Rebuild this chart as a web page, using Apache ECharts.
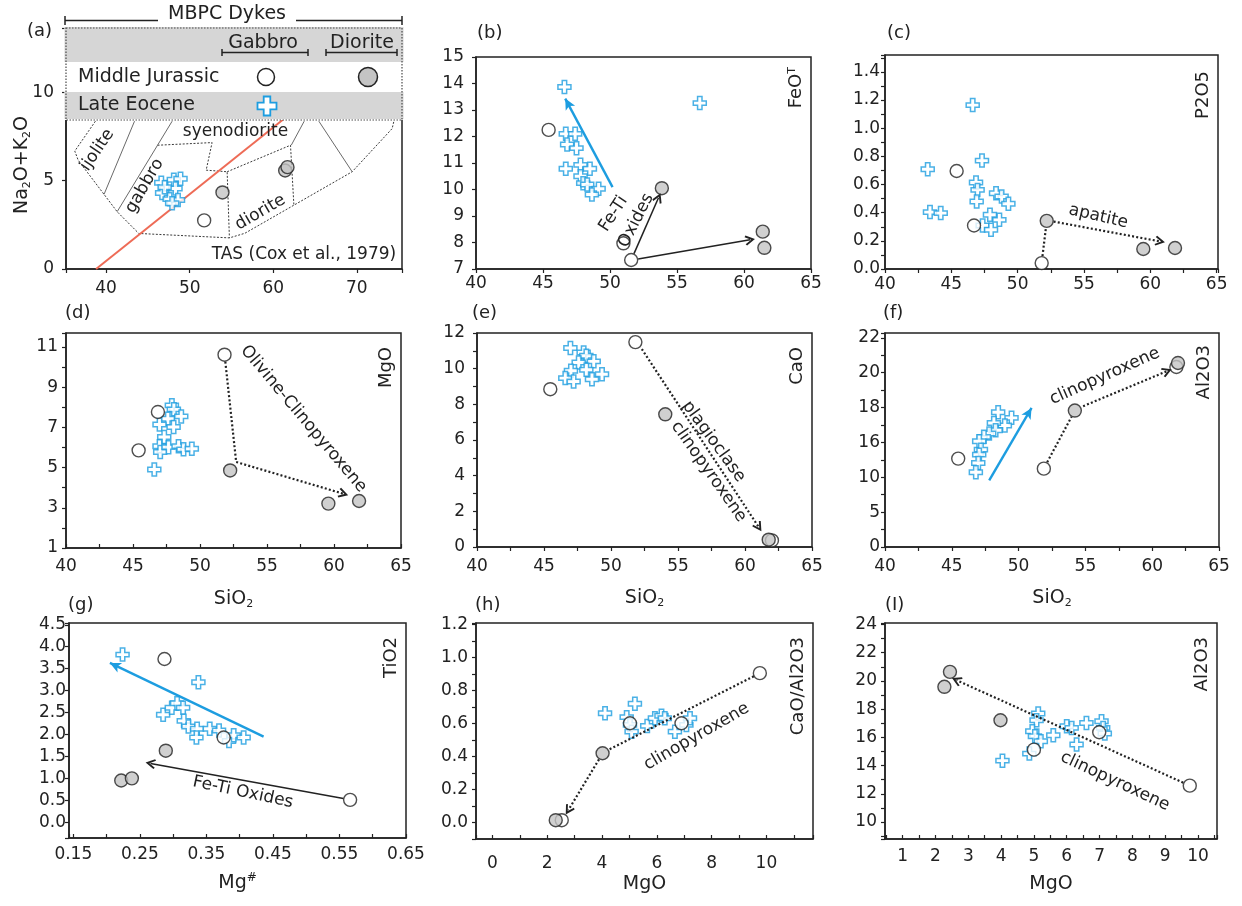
<!DOCTYPE html>
<html>
<head>
<meta charset="utf-8">
<title>MBPC Dykes – major element variation</title>
<script src="https://cdn.jsdelivr.net/npm/echarts@6/dist/echarts.min.js"></script>
<style>
  html, body { margin: 0; padding: 0; background: #ffffff; }
  #chart { width: 1242px; height: 906px; }
</style>
</head>
<body>
<div id="chart"></div>
<script>
// ---------- (a) TAS: SiO2 vs Na2O+K2O ----------
const aEocene   = [[46.6,4.88],[48.1,5.05],[48.9,5.1],[48.3,4.55],[46.7,4.3],[47.6,3.95],[48.6,3.9],[47.9,3.72],[47.0,4.62]];
const aJurassic = [[51.73,2.75]];
const aDiorite  = [[53.92,4.33],[61.42,5.57],[61.7,5.76]];
// TAS field boundaries (Cox et al., 1979)
const tasOuter   = [[38.72,8.36],[36.25,6.67],[36.65,6.16],[41.32,3.24],[43.91,2.01],[54.75,1.76],[56.6,2.02],[69.44,5.5],[74.22,7.94],[74.43,8.36]];
const tasLineA   = [[43.4,8.36],[39.75,4.22]];
const tasLineB   = [[47.9,8.36],[41.32,3.24]];
const tasLineC   = [[63.7,8.36],[62.15,7.0]];
const tasLineD   = [[65.45,8.36],[69.44,5.5]];
const tasGabbro  = [[46.15,7.0],[52.68,7.15],[51.97,5.59],[54.48,5.5],[54.75,1.76]];
const tasDiorite = [[54.48,5.5],[62.06,7.0],[62.46,3.65]];
const tasDivide  = [[38.8,0],[61.14,8.44]];

// ---------- (b) SiO2 vs FeOT ----------
const bEocene   = [[46.6,13.87],[56.7,13.26],[46.7,12.1],[47.4,12.1],[46.8,11.7],[47.5,11.56],[46.7,10.78],[47.8,10.93],[48.5,10.78],[47.8,10.5],[48.0,10.24],[48.3,10.19],[49.15,10.03],[48.65,9.81]];
const bJurassic = [[45.42,12.25],[51.0,7.97],[51.58,7.34]];
const bDiorite  = [[53.87,10.05],[61.4,8.41],[61.52,7.8]];
const bTrendEocene = [[50.19,10.09],[46.66,13.43]];
const bTrendOxA    = [[51.79,7.58],[53.62,9.69]];
const bTrendOxB    = [[52.1,7.38],[60.45,8.1]];

// ---------- (c) SiO2 vs P2O5 ----------
const cEocene   = [[46.61,1.164],[43.22,0.708],[47.31,0.77],[43.39,0.404],[44.2,0.397],[46.86,0.614],[46.98,0.562],[46.91,0.479],[48.37,0.538],[48.79,0.515],[49.3,0.463],[47.91,0.385],[48.62,0.349],[47.36,0.309],[47.99,0.279]];
const cJurassic = [[45.4,0.696],[46.71,0.309],[51.81,0.042]];
const cDiorite  = [[52.19,0.342],[59.47,0.142],[61.86,0.149]];
const cTrendLink    = [[51.87,0.092],[52.13,0.293]];
const cTrendApatite = [[52.71,0.337],[60.73,0.196]];

// ---------- (d) SiO2 vs MgO ----------
const dEocene   = [[47.9,8.1],[48.05,7.9],[48.6,7.55],[47.6,7.43],[46.98,7.15],[48.03,7.02],[47.33,6.52],[46.98,6.06],[47.03,5.78],[47.65,6.02],[48.4,6.07],[48.77,5.91],[49.39,5.94],[46.59,4.91]];
const dJurassic = [[51.83,10.62],[45.42,5.86],[46.86,7.77]];
const dDiorite  = [[52.25,4.86],[59.58,3.21],[61.87,3.34]];
const dTrend    = [[51.89,10.27],[52.7,5.28],[60.7,3.7]];

// ---------- (e) SiO2 vs CaO ----------
const eEocene   = [[46.97,11.16],[47.96,10.91],[48.16,10.72],[47.59,10.35],[48.71,10.41],[47.01,9.88],[48.16,9.94],[46.59,9.47],[47.21,9.28],[48.58,9.41],[49.33,9.69]];
const eJurassic = [[51.82,11.49],[45.47,8.85],[62.01,0.37]];
const eDiorite  = [[54.05,7.44],[61.77,0.41]];
const eTrend    = [[52.3,11.1],[61.02,1.12]];

// ---------- (f) SiO2 vs Al2O3 (broken scale) ----------
const fTickLabels = [0,5,10,16,18,20,22];
const fEocene   = [[48.47,17.73],[49.47,17.41],[48.97,16.97],[48.15,17.12],[48.28,16.7],[47.8,16.51],[47.4,16.32],[47.05,16.07],[47.18,14.76],[47.05,13.9],[46.98,12.47],[46.8,10.86]];
const fJurassic = [[45.48,13.22],[51.89,11.49],[61.81,20.33]];
const fDiorite  = [[54.21,17.83],[61.93,20.56]];
const fTrendEocene = [[47.8,9.57],[50.97,17.98]];
const fTrendLink   = [[52.14,12.6],[53.96,17.47]];
const fTrendCpx    = [[54.83,18.08],[61.11,20.09]];

// ---------- (g) Mg# vs TiO2 ----------
const gEocene   = [[0.224,3.82],[0.338,3.19],[0.285,2.45],[0.298,2.61],[0.306,2.71],[0.315,2.61],[0.316,2.31],[0.323,2.18],[0.336,2.13],[0.335,1.93],[0.355,2.13],[0.369,2.09],[0.384,1.85],[0.391,1.98],[0.406,1.93]];
const gJurassic = [[0.287,3.72],[0.376,1.93],[0.566,0.51]];
const gDiorite  = [[0.289,1.63],[0.222,0.95],[0.238,1.0]];
const gTrendEocene = [[0.436,1.95],[0.205,3.63]];
const gTrendOx     = [[0.556,0.54],[0.266,1.34]];

// ---------- (h) MgO vs CaO/Al2O3 ----------
const hEocene   = [[4.11,0.663],[5.2,0.72],[4.9,0.639],[5.02,0.592],[5.08,0.551],[5.65,0.586],[5.93,0.632],[6.17,0.647],[6.29,0.632],[6.66,0.551],[7.08,0.592],[7.21,0.632]];
const hJurassic = [[9.76,0.906],[5.02,0.602],[6.9,0.602],[2.53,0.014]];
const hDiorite  = [[4.02,0.42],[2.31,0.014]];
const hTrendLink = [[9.54,0.887],[4.25,0.442]];
const hTrendCpx  = [[3.89,0.383],[2.77,0.075]];

// ---------- (i) MgO vs Al2O3 ----------
const iEocene   = [[4.04,14.35],[5.13,17.69],[5.08,17.21],[4.95,16.43],[5.03,16.08],[5.21,15.72],[4.86,14.85],[5.59,16.15],[6.0,16.79],[6.15,16.67],[6.3,15.49],[6.6,17.02],[7.06,17.14],[7.11,16.67],[7.16,16.27]];
const iJurassic = [[9.75,12.58],[5.0,15.13],[6.99,16.36]];
const iDiorite  = [[2.44,20.64],[2.27,19.58],[3.98,17.21]];
const iTrend    = [[9.55,12.79],[2.64,20.05]];

// ---------- styling ----------
const INK = '#222222';
const BLUE = '#1d9de0';
const GREY = '#c4c4c4';
const RED = '#ee6b56';
const BAND = '#d6d6d6';
const FONT = 'DejaVu Sans';
const CROSS = 'path://M3.3,0 H6.7 V3.3 H10 V6.7 H6.7 V10 H3.3 V6.7 H0 V3.3 H3.3 Z';
const CHEVRON = 'path://M5,0 L10,8.2 L8.5,9.3 L5,3.6 L1.5,9.3 L0,8.2 Z';

const LOOKS = {
  blue:   { line: { color: BLUE, width: 2.4, type: 'solid' }, head: 'arrow', size: [8, 11] },
  solid:  { line: { color: INK, width: 1.5, type: 'solid' }, head: CHEVRON, size: 10 },
  dotted: { line: { color: INK, width: 2.2, type: [2, 2.2] }, head: CHEVRON, size: 10 }
};

// piecewise mapping of Al2O3 values onto the evenly spaced (broken) tick slots
function toSlot(v) {
  const t = fTickLabels;
  for (let k = 0; k < t.length - 1; k++) {
    if (v <= t[k + 1] || k === t.length - 2) return k + (v - t[k]) / (t[k + 1] - t[k]);
  }
  return 0;
}

const sio2Name = '{t|SiO}{s|2}';
const nameRich = {
  t: { fontSize: 19, fontFamily: FONT, color: INK, lineHeight: 22 },
  s: { fontSize: 11, fontFamily: FONT, color: INK, lineHeight: 11, verticalAlign: 'bottom' },
  u: { fontSize: 12, fontFamily: FONT, color: INK, lineHeight: 12, verticalAlign: 'top' }
};

const panels = [
  { tag: '(a)', tagAt: [27, 31], grid: { left: 66, top: 28, width: 336, height: 241 },
    x: { min: 35.2, max: 75.4, step: 10, every: 1, base: 40, dec: 0, margin: 11 },
    y: { min: 0, max: 13.63, step: 5, every: 1, base: 0, dec: 0, margin: 12 },
    eocene: aEocene, jurassic: aJurassic, diorite: aDiorite,
    fields: [
      { path: tasOuter, style: { color: '#3a3a3a', width: 1, type: [2, 1.6] } },
      { path: tasGabbro, style: { color: '#3a3a3a', width: 1, type: [2, 1.6] } },
      { path: tasDiorite, style: { color: '#3a3a3a', width: 1, type: [2, 1.6] } },
      { path: tasLineA, style: { color: '#6a6a6a', width: 1, type: 'solid' } },
      { path: tasLineB, style: { color: '#6a6a6a', width: 1, type: 'solid' } },
      { path: tasLineC, style: { color: '#6a6a6a', width: 1, type: 'solid' } },
      { path: tasLineD, style: { color: '#6a6a6a', width: 1, type: 'solid' } },
      { path: tasDivide, style: { color: RED, width: 2, type: 'solid' } }
    ],
    trends: [],
    notes: [
      { text: 'ijolite', at: [38.95, 6.73], rot: 56 },
      { text: 'gabbro', at: [44.6, 4.7], rot: 60 },
      { text: 'syenodiorite', at: [55.48, 7.76], rot: 0 },
      { text: 'diorite', at: [58.45, 3.2], rot: 30 },
      { text: 'TAS (Cox et al., 1979)', at: [74.7, 0.8], rot: 0, align: 'right' }
    ] },
  { tag: '(b)', tagAt: [477, 33], grid: { left: 476, top: 57, width: 335, height: 212 },
    x: { min: 40, max: 65, step: 5, every: 1, base: 40, dec: 0, margin: 6 },
    y: { min: 7, max: 15, step: 1, every: 1, base: 7, dec: 0, margin: 12 },
    rname: '{m|FeO}{u|T}', rnameTop: 10,
    eocene: bEocene, jurassic: bJurassic, diorite: bDiorite,
    trends: [
      { path: bTrendEocene, look: 'blue', head: true },
      { path: bTrendOxA, look: 'solid', head: true },
      { path: bTrendOxB, look: 'solid', head: true }
    ],
    notes: [
      { text: 'Fe-Ti', at: [50.26, 9.08], rot: 57 },
      { text: 'Oxides', at: [51.95, 8.83], rot: 63 }
    ] },
  { tag: '(c)', tagAt: [887, 33], grid: { left: 885, top: 55, width: 333, height: 214 },
    x: { min: 40, max: 65.1, step: 2.5, every: 2, base: 40, dec: 0, margin: 7 },
    y: { min: 0, max: 1.52, step: 0.1, every: 2, base: 0, dec: 1, margin: 5 },
    rname: 'P2O5', rnameTop: 16,
    eocene: cEocene, jurassic: cJurassic, diorite: cDiorite,
    trends: [
      { path: cTrendLink, look: 'dotted', head: false },
      { path: cTrendApatite, look: 'dotted', head: true }
    ],
    notes: [{ text: 'apatite', at: [56.08, 0.373], rot: -13 }] },
  { tag: '(d)', tagAt: [65, 313], grid: { left: 66, top: 333, width: 335, height: 215 },
    x: { min: 40, max: 65, step: 2.5, every: 2, base: 40, dec: 0, margin: 10, inside: true,
         name: sio2Name, nameGap: 40 },
    y: { min: 1, max: 11.7, step: 1, every: 2, base: 1, dec: 0, margin: 8 },
    rname: 'MgO', rnameTop: 14,
    eocene: dEocene, jurassic: dJurassic, diorite: dDiorite,
    trends: [{ path: dTrend, look: 'dotted', head: true }],
    notes: [{ text: 'Olivine-Clinopyroxene', at: [57.72, 7.43], rot: -50 }] },
  { tag: '(e)', tagAt: [472, 313], grid: { left: 477, top: 333, width: 335, height: 214 },
    x: { min: 40, max: 65, step: 2.5, every: 2, base: 40, dec: 0, margin: 11,
         name: sio2Name, nameGap: 40 },
    y: { min: 0, max: 12, step: 1, every: 2, base: 0, dec: 0, margin: 12 },
    rname: 'CaO', rnameTop: 14,
    eocene: eEocene, jurassic: eJurassic, diorite: eDiorite,
    trends: [{ path: eTrend, look: 'dotted', head: true }],
    notes: [
      { text: 'plagioclase', at: [57.66, 5.91], rot: -54 },
      { text: 'clinopyroxene', at: [57.29, 4.22], rot: -55 }
    ] },
  { tag: '(f)', tagAt: [883, 313], grid: { left: 885, top: 333, width: 334, height: 214 },
    x: { min: 40, max: 65, step: 2.5, every: 2, base: 40, dec: 0, margin: 11,
         name: sio2Name, nameGap: 40 },
    y: { min: 0, max: 6.14, step: 0.5, every: 2, base: 0, dec: 0, margin: 5, labels: fTickLabels },
    yMap: toSlot,
    rname: 'Al2O3', rnameTop: 12,
    eocene: fEocene, jurassic: fJurassic, diorite: fDiorite,
    trends: [
      { path: fTrendEocene, look: 'blue', head: true },
      { path: fTrendLink, look: 'dotted', head: false },
      { path: fTrendCpx, look: 'dotted', head: true }
    ],
    notes: [{ text: 'clinopyroxene', at: [56.45, 19.8], rot: 24 }] },
  { tag: '(g)', tagAt: [68, 605], grid: { left: 69, top: 623, width: 337, height: 215 },
    x: { min: 0.1435, max: 0.65, step: 0.05, every: 2, base: 0.15, dec: 2, margin: 8, inside: true,
         name: '{t|Mg}{u|#}', nameGap: 34 },
    y: { min: -0.36, max: 4.54, step: 0.5, every: 1, base: 0, dec: 1, margin: 3 },
    rname: 'TiO2', rnameTop: 14,
    eocene: gEocene, jurassic: gJurassic, diorite: gDiorite,
    trends: [
      { path: gTrendEocene, look: 'blue', head: true },
      { path: gTrendOx, look: 'solid', head: true }
    ],
    notes: [{ text: 'Fe-Ti Oxides', at: [0.405, 0.68], rot: -12 }] },
  { tag: '(h)', tagAt: [475, 605], grid: { left: 476, top: 623, width: 337, height: 216 },
    x: { min: -0.6, max: 11.7, step: 1, every: 2, base: 0, dec: 0, margin: 16, inside: true,
         name: '{t|MgO}', nameGap: 34 },
    y: { min: -0.1, max: 1.21, step: 0.1, every: 2, base: 0, dec: 1, margin: 8 },
    rname: 'CaO/Al2O3', rnameTop: 14,
    eocene: hEocene, jurassic: hJurassic, diorite: hDiorite,
    trends: [
      { path: hTrendLink, look: 'dotted', head: false },
      { path: hTrendCpx, look: 'dotted', head: true }
    ],
    notes: [{ text: 'clinopyroxene', at: [7.45, 0.521], rot: 30 }] },
  { tag: '(I)', tagAt: [885, 605], grid: { left: 885, top: 623, width: 332, height: 216 },
    x: { min: 0.46, max: 10.58, step: 0.5, every: 2, base: 0, dec: 0, margin: 9, inside: true,
         name: '{t|MgO}', nameGap: 34 },
    y: { min: 8.8, max: 24.1, step: 1, every: 2, base: 0, dec: 0, margin: 8 },
    rname: 'Al2O3', rnameTop: 14,
    eocene: iEocene, jurassic: iJurassic, diorite: iDiorite,
    trends: [{ path: iTrend, look: 'dotted', head: true }],
    notes: [{ text: 'clinopyroxene', at: [7.47, 12.88], rot: -25 }] }
];

// tick labels only at the labelled multiples; other ticks stay unlabelled
function tickText(ax) {
  const unit = ax.step * ax.every;
  return function (v) {
    const k = (v - ax.base) / unit;
    const kr = Math.round(k);
    if (Math.abs(k - kr) > 1e-6) return '';
    if (ax.labels) return ax.labels[kr] != null ? String(ax.labels[kr]) : '';
    return (ax.base + kr * unit).toFixed(ax.dec);
  };
}

function makeAxis(i, ax) {
  const axis = {
    type: 'value', gridIndex: i, min: ax.min, max: ax.max,
    minInterval: ax.step, maxInterval: ax.step,
    splitNumber: Math.max(1, Math.round((ax.max - ax.min) / ax.step)),
    axisLine: { show: true, onZero: false, lineStyle: { color: INK, width: 1.5 } },
    axisTick: { show: true, inside: !!ax.inside, length: 4, lineStyle: { color: INK, width: 1.2 } },
    splitLine: { show: false },
    axisLabel: { show: true, margin: ax.margin, color: INK, fontSize: 17, fontFamily: FONT,
                 showMinLabel: true, showMaxLabel: true, hideOverlap: false, formatter: tickText(ax) }
  };
  if (ax.name) {
    axis.name = ax.name;
    axis.nameLocation = 'middle';
    axis.nameGap = ax.nameGap;
    axis.nameTextStyle = { color: INK, fontFamily: FONT, fontSize: 19, rich: nameRich };
  }
  return axis;
}

function trendLines(trends, pt) {
  const data = [];
  trends.forEach(t => {
    const look = LOOKS[t.look];
    for (let k = 0; k < t.path.length - 1; k++) {
      const last = k === t.path.length - 2;
      data.push([
        { coord: pt(t.path[k]), symbol: 'none', lineStyle: look.line },
        { coord: pt(t.path[k + 1]), symbol: (last && t.head) ? look.head : 'none', symbolSize: look.size }
      ]);
    }
  });
  return { silent: true, animation: false, symbol: ['none', 'none'], label: { show: false },
           emphasis: { disabled: true }, data: data };
}

const grids = [], xAxes = [], yAxes = [], series = [];
panels.forEach((p, i) => {
  grids.push(Object.assign({ show: true, borderColor: INK, borderWidth: 1.5,
                             backgroundColor: '#ffffff', containLabel: false, outerBoundsMode: 'none' }, p.grid));
  xAxes.push(Object.assign(makeAxis(i, p.x), { position: 'bottom' }));
  yAxes.push(Object.assign(makeAxis(i, p.y), { position: 'left' }));
  const m = p.yMap || (v => v);
  const pt = d => [d[0], m(d[1])];
  const axes = { xAxisIndex: i, yAxisIndex: i };
  (p.fields || []).forEach(f => series.push(Object.assign({
    type: 'line', data: f.path.map(pt), symbol: 'none', showSymbol: false, silent: true,
    lineStyle: f.style, z: 1
  }, axes)));
  series.push(Object.assign({
    type: 'scatter', name: 'Late Eocene', data: p.eocene.map(pt), symbol: CROSS, symbolSize: 13,
    itemStyle: { color: '#ffffff', borderColor: BLUE, borderWidth: 1.5 }, silent: true, z: 3,
    markLine: trendLines(p.trends, pt)
  }, axes));
  series.push(Object.assign({
    type: 'scatter', name: 'Middle Jurassic gabbro', data: p.jurassic.map(pt), symbol: 'circle', symbolSize: 13,
    itemStyle: { color: '#ffffff', borderColor: INK, borderWidth: 1.4 }, silent: true, z: 4
  }, axes));
  series.push(Object.assign({
    type: 'scatter', name: 'Middle Jurassic diorite', data: p.diorite.map(pt), symbol: 'circle', symbolSize: 13,
    itemStyle: { color: GREY, borderColor: INK, borderWidth: 1.4 }, silent: true, z: 4
  }, axes));
  series.push(Object.assign({
    type: 'scatter', data: p.notes.map(n => ({ name: n.text, value: pt(n.at),
      label: { rotate: n.rot, align: n.align || 'center' } })),
    symbolSize: 1, itemStyle: { color: '#ffffff', opacity: 1 }, silent: true, z: 5,
    label: { show: true, position: 'inside', formatter: '{b}', color: INK, opacity: 1,
             textBorderWidth: 0, textBorderColor: 'transparent', fontSize: 17, fontFamily: FONT }
  }, axes));
});

// ---------- panel tags, in-frame axis titles, TAS legend ----------
const graphics = [];
const txt = (x, y, text, size, align) => ({
  type: 'text', x: x, y: y, z: 60,
  style: { text: text, fontSize: size, fontFamily: FONT, fill: INK, align: align || 'left', verticalAlign: 'middle' }
});

panels.forEach(p => {
  graphics.push(txt(p.tagAt[0], p.tagAt[1], p.tag, 18));
  if (p.rname) {
    const g = p.grid;
    graphics.push({
      type: 'text', x: g.left + g.width - 15, y: g.top + p.rnameTop, rotation: Math.PI / 2, z: 60,
      style: { text: p.rname, fontSize: 18, fontFamily: FONT, fill: INK, align: 'right', verticalAlign: 'middle',
               rich: { m: { fontSize: 18, fontFamily: FONT, fill: INK },
                       u: { fontSize: 11, fontFamily: FONT, fill: INK, verticalAlign: 'top' } } }
    });
  }
});

// y title of the TAS panel
graphics.push({
  type: 'text', x: 22, y: 165, rotation: Math.PI / 2, z: 60,
  style: { text: '{t|Na}{s|2}{t|O+K}{s|2}{t|O}', fontFamily: FONT, fill: INK, align: 'center', verticalAlign: 'middle',
           rich: { t: { fontSize: 19, fontFamily: FONT, fill: INK, lineHeight: 22 },
                   s: { fontSize: 11, fontFamily: FONT, fill: INK, lineHeight: 11, verticalAlign: 'bottom' } } }
});

const line = (x1, y1, x2, y2, w) => ({ type: 'line', z: 60, shape: { x1: x1, y1: y1, x2: x2, y2: y2 },
                                       style: { stroke: INK, lineWidth: w || 1.5 } });
const bracket = (x1, x2, y, h) => [line(x1, y, x2, y), line(x1, y - h, x1, y + h), line(x2, y - h, x2, y + h)];

// header bracket
graphics.push(txt(227, 14, 'MBPC Dykes', 19, 'center'));
graphics.push(line(65, 20.5, 158, 20.5), line(296, 20.5, 402, 20.5), line(65, 16, 65, 25), line(402, 16, 402, 25));

// legend block inside the TAS frame
graphics.push(
  { type: 'rect', z: 55, shape: { x: 64.5, y: 27, width: 339, height: 93 }, style: { fill: '#ffffff' } },
  { type: 'rect', z: 55, shape: { x: 64.5, y: 27, width: 339, height: 35 }, style: { fill: BAND } },
  { type: 'rect', z: 55, shape: { x: 64.5, y: 92, width: 339, height: 27 }, style: { fill: BAND } },
  { type: 'rect', z: 56, shape: { x: 66, y: 28, width: 336, height: 92 },
    style: { fill: null, stroke: '#4a4a4a', lineWidth: 1.2, lineDash: [1.5, 1.5] } }
);
graphics.push(txt(263, 43, 'Gabbro', 19, 'center'));
graphics.push(txt(362, 43, 'Diorite', 19, 'center'));
graphics.push(...bracket(222, 308, 52.5, 3.5), ...bracket(326, 397, 52.5, 3.5));
graphics.push(txt(78, 77, 'Middle Jurassic', 19));
graphics.push(txt(78, 105, 'Late Eocene', 19));
graphics.push({ type: 'circle', z: 60, shape: { cx: 266, cy: 77, r: 8.5 }, style: { fill: '#ffffff', stroke: INK, lineWidth: 1.5 } });
graphics.push({ type: 'circle', z: 60, shape: { cx: 368, cy: 77, r: 9.5 }, style: { fill: GREY, stroke: INK, lineWidth: 1.5 } });
(function () {
  const cx = 267, cy = 106, h = 9.5, a = 3.3;
  graphics.push({ type: 'polygon', z: 60,
    shape: { points: [[cx - a, cy - h], [cx + a, cy - h], [cx + a, cy - a], [cx + h, cy - a], [cx + h, cy + a], [cx + a, cy + a],
                      [cx + a, cy + h], [cx - a, cy + h], [cx - a, cy + a], [cx - h, cy + a], [cx - h, cy - a], [cx - a, cy - a]] },
    style: { fill: '#ffffff', stroke: BLUE, lineWidth: 1.8 } });
})();

const chart = echarts.init(document.getElementById('chart'), null, { renderer: 'canvas' });
chart.setOption({
  backgroundColor: '#ffffff',
  animation: false,
  textStyle: { fontFamily: FONT, color: INK },
  grid: grids,
  xAxis: xAxes,
  yAxis: yAxes,
  series: series,
  graphic: { elements: graphics }
});
</script>
</body>
</html>
